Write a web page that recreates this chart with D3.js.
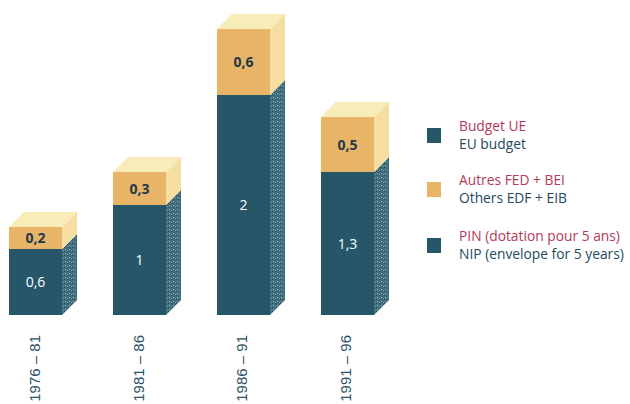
<!DOCTYPE html>
<html><head><meta charset="utf-8">
<script src="https://cdn.jsdelivr.net/npm/d3@7"></script>
<style>body{margin:0;background:#fff}svg{display:block}</style>
</head><body>
<script>
const categories = ["1976 – 81", "1981 – 86", "1986 – 91", "1991 – 96"];
const nipValues = [0.6, 1, 2, 1.3];
const othersValues = [0.2, 0.3, 0.6, 0.5];
const nipLabels = ["0,6", "1", "2", "1,3"];
const othersLabels = ["0,2", "0,3", "0,6", "0,5"];
const legendFr = ["Budget UE", "Autres FED + BEI", "PIN (dotation pour 5 ans)"];
const legendEn = ["EU budget", "Others EDF + EIB", "NIP (envelope for 5 years)"];
const legendColors = ["#275669", "#e8b468", "#275669"];

const W = 630, H = 404;
const svg = d3.select("body").append("svg").attr("width", W).attr("height", H);
const font = "'Open Sans', 'DejaVu Sans', sans-serif";

const x = d3.scaleBand().domain(categories).range([9, 374]).paddingInner(0.49).paddingOuter(0);
const y = d3.scaleLinear().domain([0, 2.6]).range([315, 29]);
const d = 15;

const teal = "#275669", tealSide = "#3f6c7a";
const orange = "#e8b468", orangeSide = "#f5dea0", topFace = "#f8edb8";

const defs = svg.append("defs");
const pt = defs.append("pattern").attr("id","speck").attr("width",4).attr("height",4).attr("patternUnits","userSpaceOnUse");
pt.append("rect").attr("width",4).attr("height",4).attr("fill",tealSide);
pt.append("rect").attr("x",1).attr("y",1).attr("width",1).attr("height",1).attr("fill","#9fb8bf");
pt.append("rect").attr("x",3).attr("y",2).attr("width",1).attr("height",1).attr("fill","#7c9ca6");
pt.append("rect").attr("x",0).attr("y",3).attr("width",1).attr("height",1).attr("fill","#2c5a68");

const data = categories.map((c, i) => ({c, nip: nipValues[i], oth: othersValues[i], nl: nipLabels[i], ol: othersLabels[i]}));

const g = svg.append("g");
data.forEach(dd => {
  const x0 = x(dd.c), w = x.bandwidth();
  const yb = y(0), ym = y(dd.nip), yt = y(dd.nip + dd.oth);
  const segs = [
    {y0: ym, y1: yb, front: teal, side: "url(#speck)"},
    {y0: yt, y1: ym, front: orange, side: orangeSide}
  ];
  segs.forEach(s => {
    g.append("rect").attr("x", x0).attr("y", s.y0).attr("width", w).attr("height", s.y1 - s.y0).attr("fill", s.front);
    g.append("polygon").attr("points", [[x0+w, s.y0],[x0+w+d, s.y0-d],[x0+w+d, s.y1-d],[x0+w, s.y1]].map(p=>p.join(",")).join(" ")).attr("fill", s.side);
  });
  g.append("polygon").attr("points", [[x0, yt],[x0+d, yt-d],[x0+w+d, yt-d],[x0+w, yt]].map(p=>p.join(",")).join(" ")).attr("fill", topFace);
  g.append("text").attr("x", x0 + w/2).attr("y", (ym+yb)/2 + 5).attr("text-anchor","middle")
    .attr("font-family", font).attr("font-size", 14).attr("fill", "#fff").text(dd.nl);
  g.append("text").attr("x", x0 + w/2).attr("y", (yt+ym)/2 + 5).attr("text-anchor","middle")
    .attr("font-family", font).attr("font-size", 14).attr("font-weight", "bold").attr("fill", "#24384a").text(dd.ol);
  g.append("text").attr("transform", `translate(${x0 + w/2 + 4},335) rotate(-90)`).attr("text-anchor","end")
    .attr("font-family", "'Liberation Sans', Arial, sans-serif").attr("font-size", 15).attr("fill", "#2a5266").text(dd.c);
});

const lg = svg.append("g");
const ly = [128, 182, 238];
legendFr.forEach((t, i) => {
  lg.append("rect").attr("x", 427).attr("y", ly[i]).attr("width", 14).attr("height", 15).attr("fill", legendColors[i]);
  lg.append("text").attr("x", 459).attr("y", ly[i] + 3).attr("font-family", font).attr("font-size", 13.8).attr("fill", "#b23a58").text(t);
  lg.append("text").attr("x", 459).attr("y", ly[i] + 21).attr("font-family", font).attr("font-size", 13.8).attr("fill", "#234a5c").text(legendEn[i]);
});
</script>
</body></html>
